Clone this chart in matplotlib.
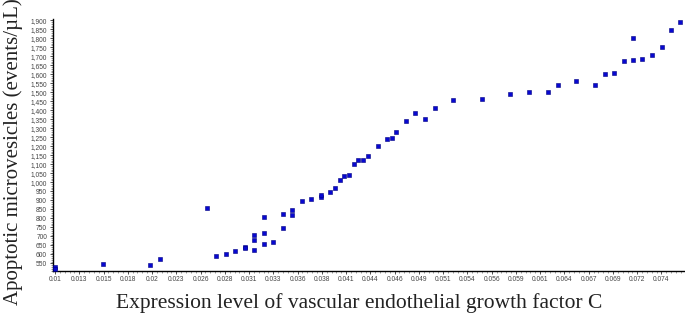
import numpy as np
import matplotlib
matplotlib.use("Agg")
import matplotlib.pyplot as plt
from matplotlib.ticker import FixedLocator, AutoMinorLocator, FuncFormatter

#---------------- DATA - START ----------------
vegfc = [0.01010, 0.01010, 0.01515, 0.02015, 0.02118, 0.02616, 0.02720, 0.02820,
         0.02919, 0.03022, 0.03022, 0.03120, 0.03120, 0.03120, 0.03219, 0.03219,
         0.03219, 0.03318, 0.03421, 0.03421, 0.03519, 0.03519, 0.03622, 0.03720,
         0.03823, 0.03823, 0.03922, 0.03974, 0.04024, 0.04073, 0.04123, 0.04172,
         0.04221, 0.04274, 0.04324, 0.04427, 0.04525, 0.04578, 0.04624, 0.04726,
         0.04825, 0.04927, 0.05030, 0.05226, 0.05528, 0.05828, 0.06029, 0.06230,
         0.06333, 0.06530, 0.06735, 0.06834, 0.06932, 0.07035, 0.07133, 0.07133,
         0.07233, 0.07334, 0.07437, 0.07532, 0.07635]
microvesicles = [530, 518, 548, 539, 574, 859, 592, 603,
                 618, 642, 635, 624, 682, 709, 656, 718,
                 809, 670, 748, 826, 819, 848, 895, 908,
                 919, 930, 947, 969, 1012, 1034, 1041, 1101,
                 1121, 1123, 1143, 1204, 1240, 1245, 1280, 1341,
                 1382, 1351, 1410, 1457, 1462, 1492, 1503, 1503,
                 1540, 1560, 1542, 1601, 1605, 1671, 1681, 1801,
                 1682, 1707, 1751, 1846, 1890]

x_tick_labels = ["0.01", "0.013", "0.015", "0.018", "0.02", "0.023", "0.026",
                 "0.028", "0.031", "0.033", "0.036", "0.038", "0.041", "0.044",
                 "0.046", "0.049", "0.051", "0.054", "0.056", "0.059", "0.061",
                 "0.064", "0.067", "0.069", "0.072", "0.074"]
#---------------- DATA - END ----------------

# axis ticks: evenly spaced, labels are the rounded values
x_start = 0.010095
x_step = 0.00257
x_ticks = x_start + x_step * np.arange(len(x_tick_labels))
y_ticks = np.arange(550, 1901, 50)

fig = plt.figure(figsize=(6.85, 3.2), dpi=100)
ax = fig.add_axes([0.0769, 0.154, 0.9215, 0.786])

ax.scatter(vegfc, microvesicles, marker="s", s=12, c="#0808d0",
           edgecolors="#000080", linewidths=0.4, zorder=3, clip_on=False)

ax.set_xlim(0.00985, 0.07672)
ax.set_ylim(509, 1905)

ax.xaxis.set_major_locator(FixedLocator(x_ticks))
ax.set_xticklabels(x_tick_labels)
ax.xaxis.set_minor_locator(AutoMinorLocator(5))
ax.yaxis.set_major_locator(FixedLocator(y_ticks))
ax.yaxis.set_major_formatter(FuncFormatter(lambda v, p: "{:,}".format(int(v))))
ax.yaxis.set_minor_locator(AutoMinorLocator(5))

ax.tick_params(axis="both", which="major", length=2.5, width=0.6, colors="#333333",
               labelsize=4.8, pad=1.5, direction="out")
ax.tick_params(axis="both", which="minor", length=1.2, width=0.4, color="#555555")
for lab in ax.get_xticklabels() + ax.get_yticklabels():
    lab.set_fontfamily("Liberation Sans")
    lab.set_color("#444444")

for s in ["top", "right"]:
    ax.spines[s].set_visible(False)
ax.spines["left"].set_linewidth(1.0)
ax.spines["bottom"].set_linewidth(1.0)

fig.text(0.019, 0.525, "Apoptotic microvesicles (events/\u00b5L)", rotation=90,
         ha="center", va="center", fontsize=15, family="Liberation Serif", color="#222222")
fig.text(0.524, 0.052, "Expression level of vascular endothelial growth factor C",
         ha="center", va="center", fontsize=15.5, family="Liberation Serif", color="#222222")

fig.savefig("out.png", dpi=100)
